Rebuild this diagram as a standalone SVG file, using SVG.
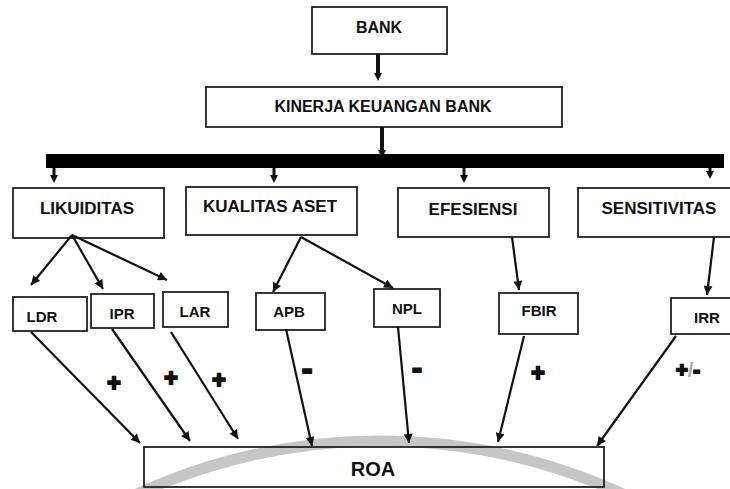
<svg xmlns="http://www.w3.org/2000/svg" width="730" height="489" viewBox="0 0 730 489">
<style>
.box{fill:none;stroke:#222;stroke-width:1.8}
.t{font-family:"Liberation Sans",Arial,sans-serif;font-weight:bold;fill:#111;text-anchor:middle}
.t16{font-size:16px}
.t17{font-size:17px}
.t15{font-size:15px}
.t20{font-size:20px}
.sign{font-family:"Liberation Sans",Arial,sans-serif;font-weight:bold;fill:#111;stroke:#111;stroke-width:2;text-anchor:middle}
.c{fill:none;stroke:#111;stroke-width:2.2;marker-end:url(#ah)}
.ct{fill:none;stroke:#111;stroke-width:4;marker-end:url(#ahb)}
.cs{fill:none;stroke:#111;stroke-width:3;marker-end:url(#ahb)}
</style>
<defs>
<marker id="ah" viewBox="0 0 10 10" refX="10" refY="5" markerWidth="10" markerHeight="9" markerUnits="userSpaceOnUse" orient="auto">
<path d="M0,0 L10,5 L0,10 z" fill="#111"/>
</marker>
<marker id="ahb" viewBox="0 0 8 8" refX="2" refY="4" markerWidth="8" markerHeight="8" markerUnits="userSpaceOnUse" orient="auto">
<path d="M0,0 L8,4 L0,8 z" fill="#111"/>
</marker>
</defs>
<rect width="730" height="489" fill="#fff"/>
<circle id="arc" cx="380" cy="1024" r="583" fill="none" stroke="#c6c6c6" stroke-width="11"/>

<g id="bank"><rect class="box" x="312" y="7" width="135" height="47"/><text class="t t16" x="379" y="33">BANK</text></g>
<g id="kinerja"><rect class="box" x="206" y="87" width="356" height="40"/><text class="t t16" x="383" y="112">KINERJA KEUANGAN BANK</text></g>
<g id="bar"><rect x="46" y="154" width="678" height="14" fill="#000"/></g>
<g id="likuiditas"><rect class="box" x="13" y="188" width="151" height="50"/><text class="t t17" x="87" y="214">LIKUIDITAS</text></g>
<g id="kualitas"><rect class="box" x="186" y="187" width="171" height="48"/><text class="t t17" x="270" y="212">KUALITAS ASET</text></g>
<g id="efesiensi"><rect class="box" x="398" y="188" width="151" height="49"/><text class="t t17" x="473" y="215">EFESIENSI</text></g>
<g id="sensitivitas"><rect class="box" x="578" y="188" width="160" height="49"/><text class="t t17" x="659" y="214">SENSITIVITAS</text></g>
<g id="ldr"><rect class="box" x="13" y="297" width="74" height="34"/><text class="t t15" x="42" y="322">LDR</text></g>
<g id="ipr"><rect class="box" x="91" y="294" width="63" height="34"/><text class="t t15" x="122" y="319">IPR</text></g>
<g id="lar"><rect class="box" x="163" y="292" width="65" height="35"/><text class="t t15" x="195" y="317">LAR</text></g>
<g id="apb"><rect class="box" x="256" y="293" width="69" height="37"/><text class="t t15" x="289" y="317">APB</text></g>
<g id="npl"><rect class="box" x="374" y="289" width="66" height="38"/><text class="t t15" x="407" y="314">NPL</text></g>
<g id="fbir"><rect class="box" x="499" y="293" width="79" height="41"/><text class="t t15" x="539" y="316">FBIR</text></g>
<g id="irr"><rect class="box" x="671" y="298" width="70" height="36"/><text class="t t15" x="707" y="323">IRR</text></g>
<g id="roa"><rect class="box" x="144" y="447" width="460" height="40"/><text class="t t20" x="373" y="476">ROA</text></g>

<g id="connectors">
<path class="ct" d="M378,54 V75"/>
<path class="ct" d="M382,127 V152"/>
<path class="cs" d="M54,168 V177"/>
<path class="cs" d="M274,168 V177"/>
<path class="cs" d="M464,168 V177"/>
<path class="cs" d="M710,168 V173"/>
<path class="c" d="M72,235 L31,285"/>
<path class="c" d="M72,235 L103,289"/>
<path class="c" d="M72,235 L167,280"/>
<path class="c" d="M301,237 L273,292"/>
<path class="c" d="M301,237 L393,288"/>
<path class="c" d="M512,237 L519,290"/>
<path class="c" d="M714,237 L707,295"/>
<path class="c" d="M31,332 L140,443"/>
<path class="c" d="M112,329 L190,441"/>
<path class="c" d="M171,332 L238,439"/>
<path class="c" d="M286,329 L312,446"/>
<path class="c" d="M398,327 L409,443"/>
<path class="c" d="M524,336 L498,442"/>
<path class="c" d="M676,336 L597,446"/>
</g>

<g id="signs">
<text class="sign" font-size="23" x="114" y="391">+</text>
<text class="sign" font-size="23" x="171" y="386">+</text>
<text class="sign" font-size="23" x="219" y="388">+</text>
<text class="sign" font-size="23" x="538" y="381">+</text>
<text class="sign" font-size="32" x="307" y="379">-</text>
<text class="sign" font-size="30" x="417" y="378">-</text>
<text class="sign" font-size="20" x="688" y="377">+<tspan fill="#aaa" stroke="none">/</tspan>-</text>
</g>
</svg>
